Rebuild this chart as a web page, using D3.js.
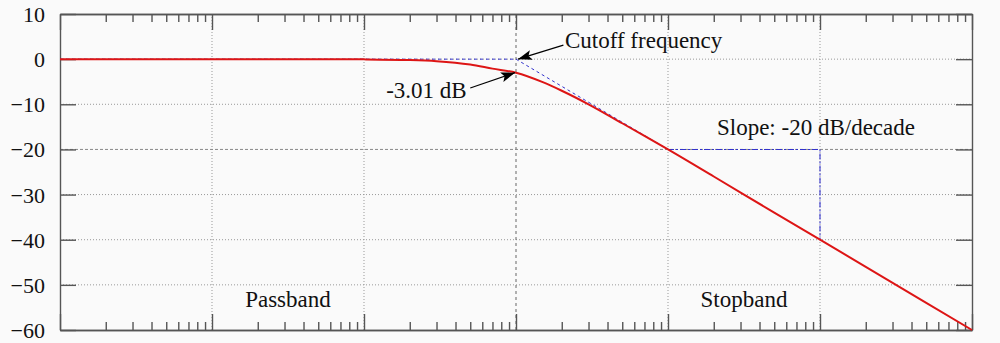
<!DOCTYPE html>
<html>
<head>
<meta charset="utf-8">
<script src="https://cdn.jsdelivr.net/npm/d3@7"></script>
<style>
  html, body { margin: 0; padding: 0; background: #fafafa; }
  svg { display: block; }
  svg text { font-family: "Liberation Serif", "Times New Roman", Times, "DejaVu Serif", "Noto Serif", serif; }
  .axis path, .axis line { stroke: #555; stroke-width: 1.4; }
  .grid { stroke: #999; stroke-width: 1; stroke-dasharray: 1,2; }
</style>
</head>
<body>
<div id="chart"></div>
<script>
// frequency (normalised, cutoff = 1) and gain in dB
const freqs = [0.001, 0.01, 0.05, 0.1, 0.2, 0.3, 0.5, 0.7, 1, 1.5, 2, 3, 5, 7, 10, 20, 50, 100, 200, 500, 1000];
const gainDb = [0, 0, -0.01, -0.05, -0.2, -0.45, -1.2, -2.1, -3.01, -5.1, -7.0, -10.0, -14.2, -17.0, -20.0, -26.0, -34.0, -40.0, -46.0, -54.0, -60.0];

// straight-line asymptote
const asymFreq = [0.001, 1, 10];
const asymDb = [0, 0, -20];

// slope triangle
const slopeFreq = [10, 100, 100];
const slopeDb = [-20, -20, -40];

const yTicks = [10, 0, -10, -20, -30, -40, -50, -60];

const width = 1000, height = 343;
const margin = { top: 14, right: 28, bottom: 13, left: 60 };
const innerW = width - margin.left - margin.right;
const innerH = height - margin.top - margin.bottom;
const serif = '"Liberation Serif", "Times New Roman", Times, "DejaVu Serif", serif';

const svg = d3.select('#chart')
  .append('svg')
  .attr('width', width)
  .attr('height', height);

const x = d3.scaleLog().domain([1e-3, 1e3]).range([margin.left, margin.left + innerW]);
const y = d3.scaleLinear().domain([-60, 10]).range([margin.top + innerH, margin.top]);

const allTicks = x.ticks();
const majors = allTicks.filter(d => Math.abs(Math.log10(d) - Math.round(Math.log10(d))) < 1e-9);
const minors = allTicks.filter(d => majors.indexOf(d) < 0);

// grid
svg.append('g')
  .selectAll('line')
  .data(yTicks.filter(d => d > -60 && d < 10 && d !== -20))
  .join('line')
  .attr('class', 'grid')
  .attr('x1', x.range()[0]).attr('x2', x.range()[1])
  .attr('y1', d => y(d)).attr('y2', d => y(d));

svg.append('g')
  .selectAll('line')
  .data(majors.filter(d => d > 1e-3 && d < 1e3 && d !== 1))
  .join('line')
  .attr('class', 'grid')
  .attr('x1', d => x(d)).attr('x2', d => x(d))
  .attr('y1', y.range()[0]).attr('y2', y.range()[1]);

// dashed reference lines at cutoff and -20 dB
svg.append('line')
  .attr('x1', x(1)).attr('x2', x(1))
  .attr('y1', y.range()[0]).attr('y2', y.range()[1])
  .attr('stroke', '#666').attr('stroke-dasharray', '3,3');
svg.append('line')
  .attr('x1', x.range()[0]).attr('x2', x.range()[1])
  .attr('y1', y(-20)).attr('y2', y(-20))
  .attr('stroke', '#888').attr('stroke-dasharray', '3,2');

// axes
const yBottom = y.range()[0], yTop = y.range()[1];
svg.append('g').attr('class', 'axis').attr('transform', `translate(0,${yBottom})`)
  .call(d3.axisBottom(x).tickValues(majors).tickSize(-16).tickSizeOuter(0).tickFormat(''));
svg.append('g').attr('class', 'axis').attr('transform', `translate(0,${yBottom})`)
  .call(d3.axisBottom(x).tickValues(minors).tickSize(-8).tickSizeOuter(0).tickFormat(''));
svg.append('g').attr('class', 'axis').attr('transform', `translate(0,${yTop})`)
  .call(d3.axisTop(x).tickValues(majors).tickSize(-16).tickSizeOuter(0).tickFormat(''));
svg.append('g').attr('class', 'axis').attr('transform', `translate(0,${yTop})`)
  .call(d3.axisTop(x).tickValues(minors).tickSize(-8).tickSizeOuter(0).tickFormat(''));

const left = svg.append('g').attr('class', 'axis').attr('transform', `translate(${x.range()[0]},0)`)
  .call(d3.axisLeft(y).tickValues(yTicks).tickSize(-16).tickSizeOuter(0).tickPadding(15));
left.attr('font-family', serif).attr('font-size', 22);
left.selectAll('text')
  .attr('fill', '#111')
  .attr('dy', '0.34em');
svg.append('g').attr('class', 'axis').attr('transform', `translate(${x.range()[1]},0)`)
  .call(d3.axisRight(y).tickValues(yTicks).tickSize(-16).tickSizeOuter(0).tickFormat(''));

// asymptotes (blue)
const lineGen = d3.line().x(d => x(d[0])).y(d => y(d[1]));
svg.append('path')
  .datum(d3.zip(asymFreq, asymDb))
  .attr('d', lineGen)
  .attr('fill', 'none')
  .attr('stroke', '#3333cc')
  .attr('stroke-width', 1)
  .attr('stroke-dasharray', '3,3');

svg.append('path')
  .datum(d3.zip(slopeFreq, slopeDb))
  .attr('d', lineGen)
  .attr('fill', 'none')
  .attr('stroke', '#3333cc')
  .attr('stroke-width', 1.1)
  .attr('stroke-dasharray', '6,2,2,2');

// response curve
svg.append('path')
  .datum(d3.zip(freqs, gainDb))
  .attr('d', d3.line().curve(d3.curveMonotoneX).x(d => x(d[0])).y(d => y(d[1])))
  .attr('fill', 'none')
  .attr('stroke', '#dd1515')
  .attr('stroke-width', 2);

// arrows
svg.append('defs').append('marker')
  .attr('id', 'arrow')
  .attr('viewBox', '0 0 14 10')
  .attr('refX', 14).attr('refY', 5)
  .attr('markerWidth', 14).attr('markerHeight', 10)
  .attr('markerUnits', 'userSpaceOnUse')
  .attr('orient', 'auto')
  .append('path')
  .attr('d', 'M0,0 L14,5 L0,10 L3,5 Z')
  .attr('fill', '#000');

const arrows = [
  { from: [2.05, 3.1], to: [1.03, 0] },
  { from: [0.5, -6.4], to: [0.985, -3.0] }
];
svg.append('g')
  .selectAll('line')
  .data(arrows)
  .join('line')
  .attr('x1', d => x(d.from[0])).attr('y1', d => y(d.from[1]))
  .attr('x2', d => x(d.to[0])).attr('y2', d => y(d.to[1]))
  .attr('stroke', '#000')
  .attr('stroke-width', 1.2)
  .attr('marker-end', 'url(#arrow)');

// labels
const labels = [
  { text: 'Cutoff frequency', f: 2.1, db: 2.45, anchor: 'start' },
  { text: '-3.01 dB', f: 0.14, db: -8.6, anchor: 'start' },
  { text: 'Slope: -20 dB/decade', f: 21, db: -16.8, anchor: 'start' },
  { text: 'Passband', f: 0.0316, db: -54.9, anchor: 'middle' },
  { text: 'Stopband', f: 31.6, db: -54.9, anchor: 'middle' }
];
svg.append('g')
  .attr('font-family', serif)
  .selectAll('text')
  .data(labels)
  .join('text')
  .attr('x', d => x(d.f))
  .attr('y', d => y(d.db))
  .attr('text-anchor', d => d.anchor)
  .attr('font-size', 23)
  .attr('fill', '#111')
  .text(d => d.text);
</script>
</body>
</html>
